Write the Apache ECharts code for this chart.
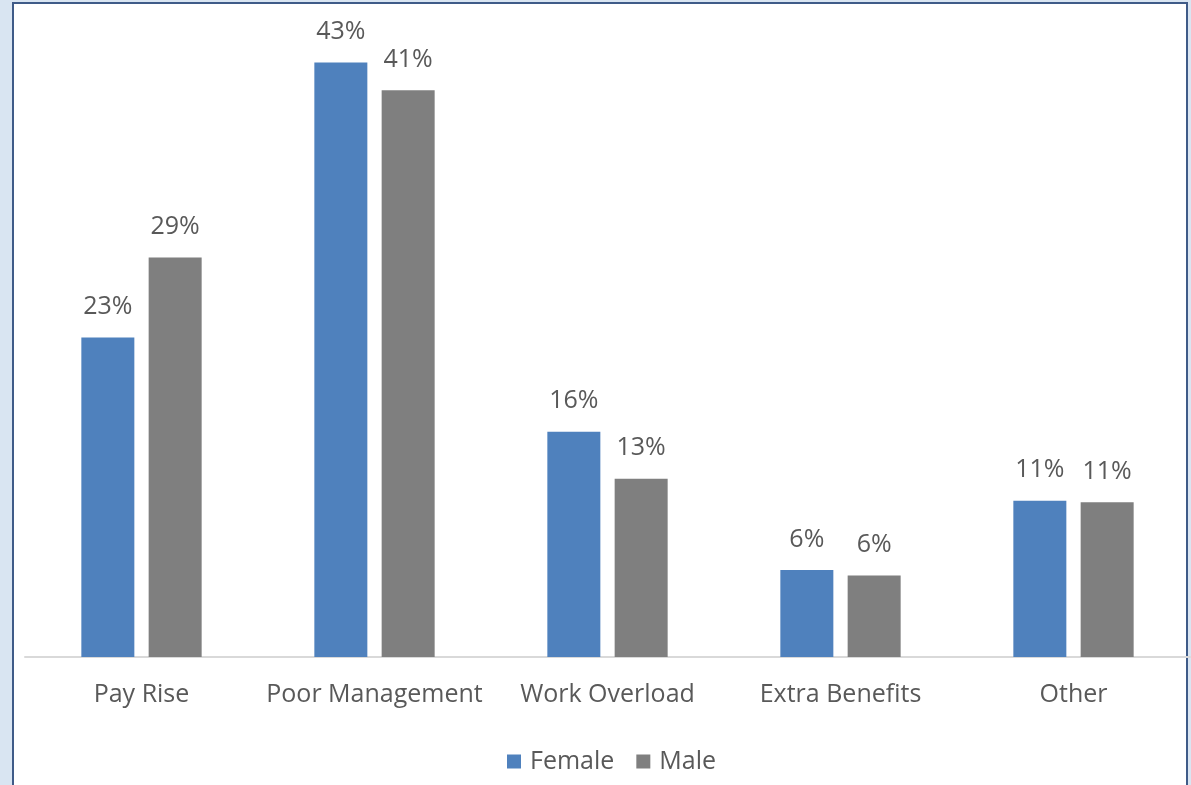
<!DOCTYPE html>
<html>
<head>
<meta charset="utf-8">
<script src="https://cdn.jsdelivr.net/npm/echarts@6/dist/echarts.min.js"></script>
<style>
html,body{margin:0;padding:0;width:1191px;height:785px;overflow:hidden;background:#d9e5f2;}
#frame{position:absolute;left:12px;top:2px;width:1172px;height:800px;border:2px solid #3f5b88;border-bottom:none;background:#ffffff;}
#chart{position:absolute;left:0;top:0;width:1191px;height:785px;}
</style>
</head>
<body>
<div id="frame"></div>
<div id="chart"></div>
<script>
const categories = ['Pay Rise', 'Poor Management', 'Work Overload', 'Extra Benefits', 'Other'];
const femaleValues = [23.1, 43.0, 16.3, 6.3, 11.3];
const maleValues = [28.9, 41.0, 12.9, 5.9, 11.2];
const seriesNames = ['Female', 'Male'];

const chart = echarts.init(document.getElementById('chart'), null, {renderer: 'canvas'});
const fontFamily = '"Open Sans", "Noto Sans", sans-serif';
const labelCfg = {
  show: true,
  position: 'top',
  distance: 18,
  color: '#595959',
  fontSize: 25,
  fontFamily: fontFamily,
  formatter: p => Math.round(p.value) + '%'
};
chart.setOption({
  backgroundColor: 'transparent',
  animation: false,
  grid: {left: 25, right: 1, top: 21, bottom: 128, containLabel: false},
  legend: {
    data: seriesNames,
    bottom: 6,
    left: 502,
    icon: 'rect',
    itemWidth: 14,
    itemHeight: 14,
    itemGap: 22,
    textStyle: {color: '#595959', fontSize: 25, fontFamily: fontFamily, padding: [0, 0, 0, 4]}
  },
  xAxis: {
    type: 'category',
    data: categories,
    axisLine: {lineStyle: {color: '#d9d9d9', width: 2}},
    axisTick: {show: false},
    axisLabel: {interval: 0, color: '#595959', fontSize: 25, fontFamily: fontFamily, margin: 25}
  },
  yAxis: {
    type: 'value',
    min: 0,
    max: 46,
    show: false,
    splitLine: {show: false}
  },
  series: [
    {name: seriesNames[0], type: 'bar', data: femaleValues, barWidth: 53, barGap: '27%',
     itemStyle: {color: '#4f81bd'}, label: labelCfg},
    {name: seriesNames[1], type: 'bar', data: maleValues, barWidth: 53,
     itemStyle: {color: '#7f7f7f'}, label: labelCfg}
  ]
});
</script>
</body>
</html>
